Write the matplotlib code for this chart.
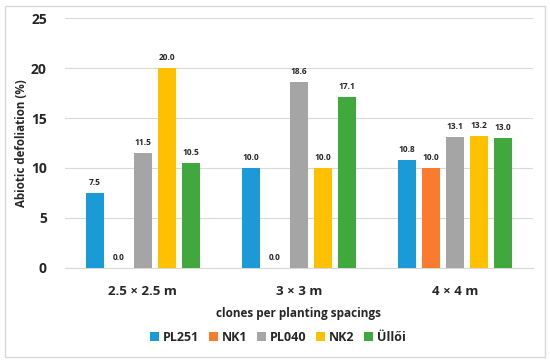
import numpy as np
import matplotlib
matplotlib.use("Agg")
import matplotlib.pyplot as plt
from matplotlib.patches import Rectangle

spacings = ["2.5 × 2.5 m", "3 × 3 m", "4 × 4 m"]
clones = ["PL251", "NK1", "PL040", "NK2", "Üllői"]
pl251 = [7.5, 10.0, 10.8]
nk1 = [0.0, 0.0, 10.0]
pl040 = [11.5, 18.6, 13.1]
nk2 = [20.0, 10.0, 13.2]
ulloi = [10.5, 17.1, 13.0]
colors = ["#1a9ad6", "#f97b2d", "#a5a5a5", "#ffc000", "#41a83e"]

plt.rcParams["font.family"] = ["Open Sans", "DejaVu Sans"]
INK = "#262626"

fig = plt.figure(figsize=(5.5, 3.63), dpi=100)
ax = fig.add_axes([0.118, 0.262, 0.851, 0.688])

series = [pl251, nk1, pl040, nk2, ulloi]
x = np.arange(len(spacings))
slot = 0.154
w = 0.118
for i, (vals, col, lab) in enumerate(zip(series, colors, clones)):
    pos = x + (i - 2) * slot
    ax.bar(pos, vals, width=w, color=col, label=lab, zorder=3)
    for p, v in zip(pos, vals):
        ax.text(p, v + 0.6, f"{v:.1f}", ha="center", va="bottom",
                fontsize=6, fontweight="bold", color=INK)

ax.set_xlim(-0.5, 2.5)
ax.set_ylim(0, 25)
ax.set_yticks([0, 5, 10, 15, 20, 25])
ax.set_xticks(x)
ax.set_xticklabels(spacings)
ax.tick_params(length=0, labelsize=9.5, colors=INK)
ax.tick_params(axis="y", labelsize=10)
for t in ax.get_xticklabels() + ax.get_yticklabels():
    t.set_fontweight("bold")
ax.tick_params(axis="x", pad=12)
ax.tick_params(axis="y", pad=13)
ax.grid(axis="y", color="#d9d9d9", lw=0.8, zorder=0)
for s in ("top", "right", "left"):
    ax.spines[s].set_visible(False)
ax.spines["bottom"].set_color("#d9d9d9")
ax.set_ylabel("Abiotic defoliation (%)", fontsize=8.3, fontweight="bold", color=INK)
ax.yaxis.set_label_coords(-0.079, 0.5)
ax.set_xlabel("clones per planting spacings", fontsize=8.5, fontweight="bold", color=INK)
ax.xaxis.set_label_coords(0.5, -0.156)

fig.legend(loc="center", bbox_to_anchor=(0.505, 0.07), ncol=5, frameon=False,
           prop={"weight": "bold", "size": 9}, handlelength=0.7, handleheight=0.7,
           handletextpad=0.3, columnspacing=0.8, labelcolor=INK)

fig.patches.append(Rectangle((0.009, 0.017), 0.982, 0.966, transform=fig.transFigure,
                             fill=False, edgecolor="#d9d9d9", lw=1.0))

fig.savefig("out.png", dpi=100)
